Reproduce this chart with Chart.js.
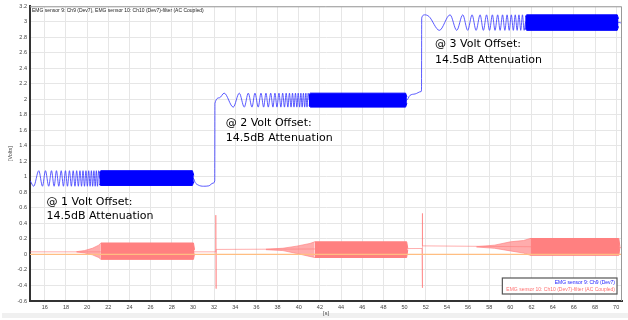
<!DOCTYPE html>
<html>
<head>
<meta charset="utf-8">
<script src="https://cdn.jsdelivr.net/npm/chart.js@4.4.0/dist/chart.umd.min.js"></script>
<style>
  html, body { margin: 0; padding: 0; background: #fff; }
  #wrap { position: relative; width: 628px; height: 320px; }
  #strip { position: absolute; left: 2px; top: 313px; width: 626px; height: 5px; background: #f0f0f0; }
  canvas { position: absolute; left: 0; top: 0; }
</style>
</head>
<body>
<div id="wrap"><div id="strip"></div><canvas id="emgChart" width="628" height="320"></canvas></div>
<script>
// tick labels
const xTicks = [16, 18, 20, 22, 24, 26, 28, 30, 32, 34, 36, 38, 40, 42, 44, 46, 48, 50, 52, 54, 56, 58, 60, 62, 64, 66, 68, 70];
const yTicks = [-0.6, -0.4, -0.2, 0, 0.2, 0.4, 0.6, 0.8, 1, 1.2, 1.4, 1.6, 1.8, 2, 2.2, 2.4, 2.6, 2.8, 3, 3.2];

// Ch9 (blue) - readable part of the trace
const blueX = [14.62, 14.95, 15.43, 15.78, 16.06, 16.37, 16.63, 16.88, 17.10, 17.32, 17.55, 17.76, 17.95, 18.14, 18.33, 18.51,
  18.68, 18.85, 19.01, 19.17, 19.32, 19.47, 19.61, 19.75, 19.89, 20.02, 20.15, 20.28, 20.40, 20.52, 20.64, 20.76, 20.87, 20.98,
  21.09, 21.2, 30.05, 30.2, 30.5, 31.0, 31.5, 31.9, 32.06,
  32.08, 32.5, 32.95, 33.81, 34.38, 34.85, 35.23, 35.58, 35.86, 36.17, 36.43, 36.68, 36.90, 37.12, 37.35, 37.56, 37.75, 37.94,
  38.13, 38.31, 38.48, 38.65, 38.81, 38.97, 39.12, 39.27, 39.41, 39.55, 39.69, 39.82, 39.95, 40.08, 40.20, 40.32, 40.44, 40.56,
  40.67, 40.78, 40.89, 41.0, 50.2, 50.5, 51.0, 51.55, 51.6,
  51.62, 51.9, 52.3, 53.29, 54.30, 54.93, 55.50, 55.97, 56.38, 56.76, 57.14, 57.45, 57.75, 58.03, 58.30, 58.55, 58.80, 59.03,
  59.26, 59.48, 59.69, 59.89, 60.09, 60.28, 60.46, 60.64, 60.81, 60.98, 61.14, 61.30, 61.45, 70.2, 70.35, 70.55];
const blueY = [0.95, 0.88, 1.08, 0.88, 1.08, 0.88, 1.08, 0.88, 1.08, 0.88, 1.08, 0.88, 1.08, 0.88, 1.08, 0.88,
  1.08, 0.88, 1.08, 0.88, 1.08, 0.88, 1.08, 0.88, 1.08, 0.88, 1.08, 0.88, 1.08, 0.88, 1.08, 0.88, 1.08, 0.88,
  1.08, 0.98, 0.98, 0.93, 0.895, 0.88, 0.885, 0.92, 0.95,
  1.95, 2.02, 2.08, 1.90, 2.08, 1.90, 2.08, 1.90, 2.08, 1.90, 2.08, 1.90, 2.08, 1.90, 2.08, 1.90, 2.08, 1.90,
  2.08, 1.90, 2.08, 1.90, 2.08, 1.90, 2.08, 1.90, 2.08, 1.90, 2.08, 1.90, 2.08, 1.90, 2.08, 1.90, 2.08, 1.90,
  2.08, 1.90, 2.08, 1.99, 1.99, 2.05, 2.07, 2.10, 2.12,
  3.05, 3.09, 3.07, 2.89, 3.09, 2.89, 3.09, 2.89, 3.09, 2.89, 3.09, 2.89, 3.09, 2.89, 3.09, 2.89, 3.09, 2.89,
  3.09, 2.89, 3.09, 2.89, 3.09, 2.89, 3.09, 2.89, 3.09, 2.89, 3.09, 2.89, 3.0, 2.99, 2.99, 2.97];

// Ch9 dense (unresolved) parts: upper / lower envelope
const blueBandX = [[21.15, 21.3, 29.95, 30.08], [40.95, 41.1, 50.1, 50.22], [61.4, 61.55, 70.1, 70.22]];
const blueBandHi = [[1.06, 1.08, 1.08, 1.02], [2.06, 2.08, 2.08, 2.03], [3.07, 3.09, 3.09, 3.04]];
const blueBandLo = [[0.90, 0.89, 0.89, 0.94], [1.92, 1.90, 1.90, 1.95], [2.91, 2.89, 2.89, 2.94]];

// Ch10 filtered (red) - baseline and switching spikes
const redX = [14.6, 32.14, 32.16, 32.18, 32.2, 51.65, 51.67, 51.69, 51.71, 70.55];
const redY = [0.034, 0.034, 0.507, -0.44, 0.065, 0.077, 0.53, -0.43, 0.111, 0.09];

// Ch10 growing part (wedge) and full-amplitude part (block)
const redWedgeX = [[19.0, 19.75, 20.5, 21.1, 21.3], [36.9, 38.5, 39.8, 41.06, 41.5], [56.8, 58.5, 60.0, 61.24, 61.87]];
const redWedgeHi = [[0.036, 0.05, 0.08, 0.12, 0.148], [0.068, 0.08, 0.107, 0.142, 0.163], [0.1, 0.12, 0.163, 0.18, 0.206]];
const redWedgeLo = [[0.032, 0.02, -0.005, -0.04, -0.063], [0.062, 0.05, 0.013, -0.026, -0.039], [0.096, 0.08, 0.046, 0.018, -0.01]];
const redBlockX = [[21.3, 30.05, 30.15], [41.5, 50.2, 50.3], [61.87, 70.25, 70.35]];
const redBlockHi = [[0.148, 0.148, 0.06], [0.163, 0.163, 0.08], [0.206, 0.206, 0.1]];
const redBlockLo = [[-0.063, -0.063, 0.01], [-0.039, -0.039, 0.06], [-0.01, -0.01, 0.09]];

// zero reference
const zeroX = [14.6, 70.55];
const zeroY = [0, 0];

const title = 'EMG sensor 9: Ch9 (Dev7), EMG sensor 10: Ch10 (Dev7)-filter (AC Coupled)';
const seriesNames = ['EMG sensor 9: Ch9 (Dev7)', 'EMG sensor 10: Ch10 (Dev7)-filter (AC Coupled)'];

const pts = (xs, ys) => xs.map((x, i) => ({ x: x, y: ys[i] }));

const BLUE = 'rgb(0,0,255)';
const RED = 'rgb(255,128,128)';
const RED_LIGHT = 'rgba(255,128,128,0.65)';
const small = 'Liberation Sans';

const datasets = [];
datasets.push({ data: pts(zeroX, zeroY), borderColor: 'rgb(255,190,130)', borderWidth: 1.2, order: 0 });
redBlockX.forEach((xs, i) => {
  datasets.push({ data: pts(xs, redBlockHi[i]), borderColor: RED, backgroundColor: RED, borderWidth: 1, fill: '+1', order: 1 });
  datasets.push({ data: pts(xs, redBlockLo[i]), borderColor: RED, borderWidth: 1, order: 1 });
});
redWedgeX.forEach((xs, i) => {
  datasets.push({ data: pts(xs, redWedgeHi[i]), borderColor: RED_LIGHT, backgroundColor: RED_LIGHT, borderWidth: 1, fill: '+1', order: 1 });
  datasets.push({ data: pts(xs, redWedgeLo[i]), borderColor: RED_LIGHT, borderWidth: 1, order: 1 });
});
datasets.push({ data: pts(redX, redY), borderColor: 'rgba(255,110,110,0.55)', borderWidth: 1, order: 2 });
blueBandX.forEach((xs, i) => {
  datasets.push({ data: pts(xs, blueBandHi[i]), borderColor: BLUE, backgroundColor: BLUE, borderWidth: 1, fill: '+1', order: 3 });
  datasets.push({ data: pts(xs, blueBandLo[i]), borderColor: BLUE, borderWidth: 1, order: 3 });
});
datasets.push({ data: pts(blueX, blueY), borderColor: 'rgba(50,50,255,0.8)', borderWidth: 1, cubicInterpolationMode: 'monotone', order: 4 });

const notes = [
  { x: 16.16, y: [0.68, 0.5], text: ['@ 1 Volt Offset:', '14.5dB Attenuation'] },
  { x: 33.09, y: [1.69, 1.5], text: ['@ 2 Volt Offset:', '14.5dB Attenuation'] },
  { x: 52.88, y: [2.71, 2.51], text: ['@ 3 Volt Offset:', '14.5dB Attenuation'] }
];

const overlay = {
  id: 'overlay',
  afterDatasetsDraw(chart) {
    const ctx = chart.ctx, a = chart.chartArea;
    const sx = chart.scales.x, sy = chart.scales.y;
    ctx.save();
    // frame top / right
    ctx.strokeStyle = '#999';
    ctx.lineWidth = 1;
    ctx.beginPath();
    ctx.moveTo(a.left, a.top + 0.5);
    ctx.lineTo(a.right - 0.5, a.top + 0.5);
    ctx.lineTo(a.right - 0.5, a.bottom);
    ctx.stroke();

    // title inside plot
    ctx.font = '5px "' + small + '"';
    ctx.fillStyle = '#222';
    ctx.textBaseline = 'middle';
    ctx.textAlign = 'left';
    ctx.fillText(title, a.left + 2, a.top + 4);

    // notes
    ctx.font = '11px "DejaVu Sans"';
    ctx.fillStyle = '#000';
    notes.forEach(n => {
      n.text.forEach((t, i) => ctx.fillText(t, sx.getPixelForValue(n.x), sy.getPixelForValue(n.y[i])));
    });

    // legend box
    ctx.font = '5px "' + small + '"';
    const w = Math.max(...seriesNames.map(s => ctx.measureText(s).width)) + 6;
    const r = a.right - 5, b = a.bottom - 7, h = 16;
    ctx.fillStyle = '#fff';
    ctx.fillRect(r - w, b - h, w, h);
    ctx.strokeStyle = '#555';
    ctx.lineWidth = 1.2;
    ctx.strokeRect(r - w, b - h, w, h);
    ctx.textAlign = 'right';
    ctx.fillStyle = '#2020ff';
    ctx.fillText(seriesNames[0], r - 2, b - h + 5);
    ctx.fillStyle = '#ff7070';
    ctx.fillText(seriesNames[1], r - 2, b - h + 12);
    ctx.restore();
  }
};

new Chart(document.getElementById('emgChart'), {
  type: 'line',
  data: { datasets: datasets },
  options: {
    responsive: false,
    animation: false,
    parsing: false,
    layout: { padding: { left: 7, right: 6, top: 6, bottom: 3 } },
    elements: { point: { radius: 0 }, line: { tension: 0 } },
    plugins: { legend: { display: false }, tooltip: { enabled: false } },
    scales: {
      x: {
        type: 'linear', min: 14.6, max: 70.55,
        afterBuildTicks: s => { s.ticks = xTicks.map(v => ({ value: v })); },
        afterFit: s => { s.height = 16; },
        grid: { color: '#e6e6e6', drawTicks: false },
        border: { color: '#333', width: 2 },
        ticks: { font: { size: 5.5, family: small }, color: '#444', padding: 3, maxRotation: 0, autoSkip: false, callback: v => String(v) },
        title: { display: true, text: '[s]', font: { size: 5.5, family: small }, color: '#444', padding: 0 }
      },
      y: {
        type: 'linear', min: -0.6, max: 3.2,
        afterBuildTicks: s => { s.ticks = yTicks.map(v => ({ value: v })); },
        afterFit: s => { s.width = 23; },
        grid: { color: '#e6e6e6', drawTicks: false },
        border: { color: '#333', width: 2 },
        ticks: { font: { size: 5.5, family: small }, color: '#444', padding: 3, autoSkip: false, callback: v => String(Math.round(v * 10) / 10) },
        title: { display: true, text: '[Volts]', font: { size: 5.5, family: small }, color: '#444', padding: 0 }
      }
    }
  },
  plugins: [overlay]
});
</script>
</body>
</html>
